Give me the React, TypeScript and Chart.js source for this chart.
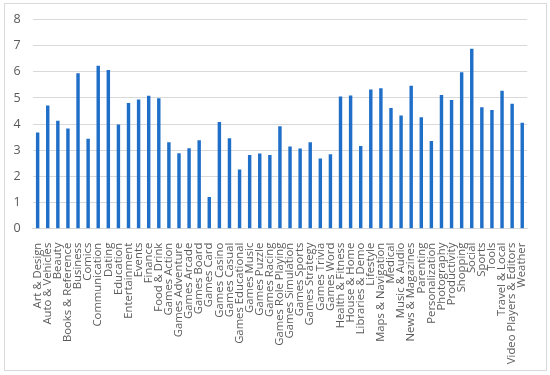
import React, { useEffect, useRef } from "react";
import { Chart, registerables } from "chart.js";

Chart.register(...registerables);

const categories = [
  "Art & Design", "Auto & Vehicles", "Beauty", "Books & Reference", "Business", "Comics",
  "Communication", "Dating", "Education", "Entertainment", "Events", "Finance", "Food & Drink",
  "Games Action", "Games Adventure", "Games Arcade", "Games Board", "Games Card", "Games Casino",
  "Games Casual", "Games Educational", "Games Music", "Games Puzzle", "Games Racing",
  "Games Role Playing", "Games Simulation", "Games Sports", "Games Strategy", "Games Trivia",
  "Games Word", "Health & Fitness", "House & Home", "Libraries & Demo", "Lifestyle",
  "Maps & Navigation", "Medical", "Music & Audio", "News & Magazines", "Parenting",
  "Personalization", "Photography", "Productivity", "Shopping", "Social", "Sports", "Tools",
  "Travel & Local", "Video Players & Editors", "Weather",
];

const values = [
  3.68, 4.71, 4.13, 3.83, 5.94, 3.44,
  6.23, 6.07, 3.98, 4.81, 4.94, 5.08, 4.99,
  3.31, 2.89, 3.08, 3.38, 1.21, 4.08,
  3.46, 2.26, 2.82, 2.88, 2.82,
  3.92, 3.14, 3.07, 3.31, 2.68,
  2.85, 5.06, 5.09, 3.16, 5.32,
  5.37, 4.62, 4.33, 5.47, 4.26,
  3.35, 5.11, 4.92, 5.98, 6.88, 4.64, 4.54,
  5.28, 4.78, 4.05,
];

const yTicks = [0, 1, 2, 3, 4, 5, 6, 7, 8];

export default function App() {
  const ref = useRef<HTMLCanvasElement | null>(null);

  useEffect(() => {
    if (!ref.current) return;
    const chart = new Chart(ref.current, {
      type: "bar",
      data: {
        labels: categories,
        datasets: [
          {
            data: values,
            backgroundColor: "#1f6fc8",
            barPercentage: 0.34,
            categoryPercentage: 1,
          },
        ],
      },
      options: {
        responsive: false,
        animation: false,
        layout: { padding: { left: 0, right: 20, top: 19, bottom: 0 } },
        plugins: { legend: { display: false }, tooltip: { enabled: false } },
        scales: {
          x: {
            grid: { display: false, drawTicks: false },
            border: { display: true, color: "#d9d9d9" },
            ticks: {
              autoSkip: false,
              maxRotation: 90,
              minRotation: 90,
              padding: 14,
              color: "#595959",
              font: { family: "'Open Sans'", size: 11.3 },
            },
            afterFit: (s: any) => {
              s.height = 375 - 228.7;
            },
          },
          y: {
            min: 0,
            max: 8,
            afterBuildTicks: (s: any) => {
              s.ticks = yTicks.map((v) => ({ value: v }));
            },
            grid: { color: "#d9d9d9", drawTicks: false },
            border: { display: false },
            ticks: {
              padding: 12,
              color: "#595959",
              font: { family: "'Open Sans'", size: 12.5 },
            },
            afterFit: (s: any) => {
              s.width = 32.6;
            },
          },
        },
      },
    });
    return () => chart.destroy();
  }, []);

  return (
    <div style={{ position: "absolute", left: 0, top: 0, width: 550, height: 375, background: "#fff" }}>
      <div
        style={{
          position: "absolute",
          left: 4,
          top: 3,
          width: 543,
          height: 368,
          border: "1px solid #d9d9d9",
          boxSizing: "border-box",
        }}
      />
      <canvas ref={ref} width={550} height={375} style={{ position: "absolute", left: 0, top: 0 }} />
    </div>
  );
}
